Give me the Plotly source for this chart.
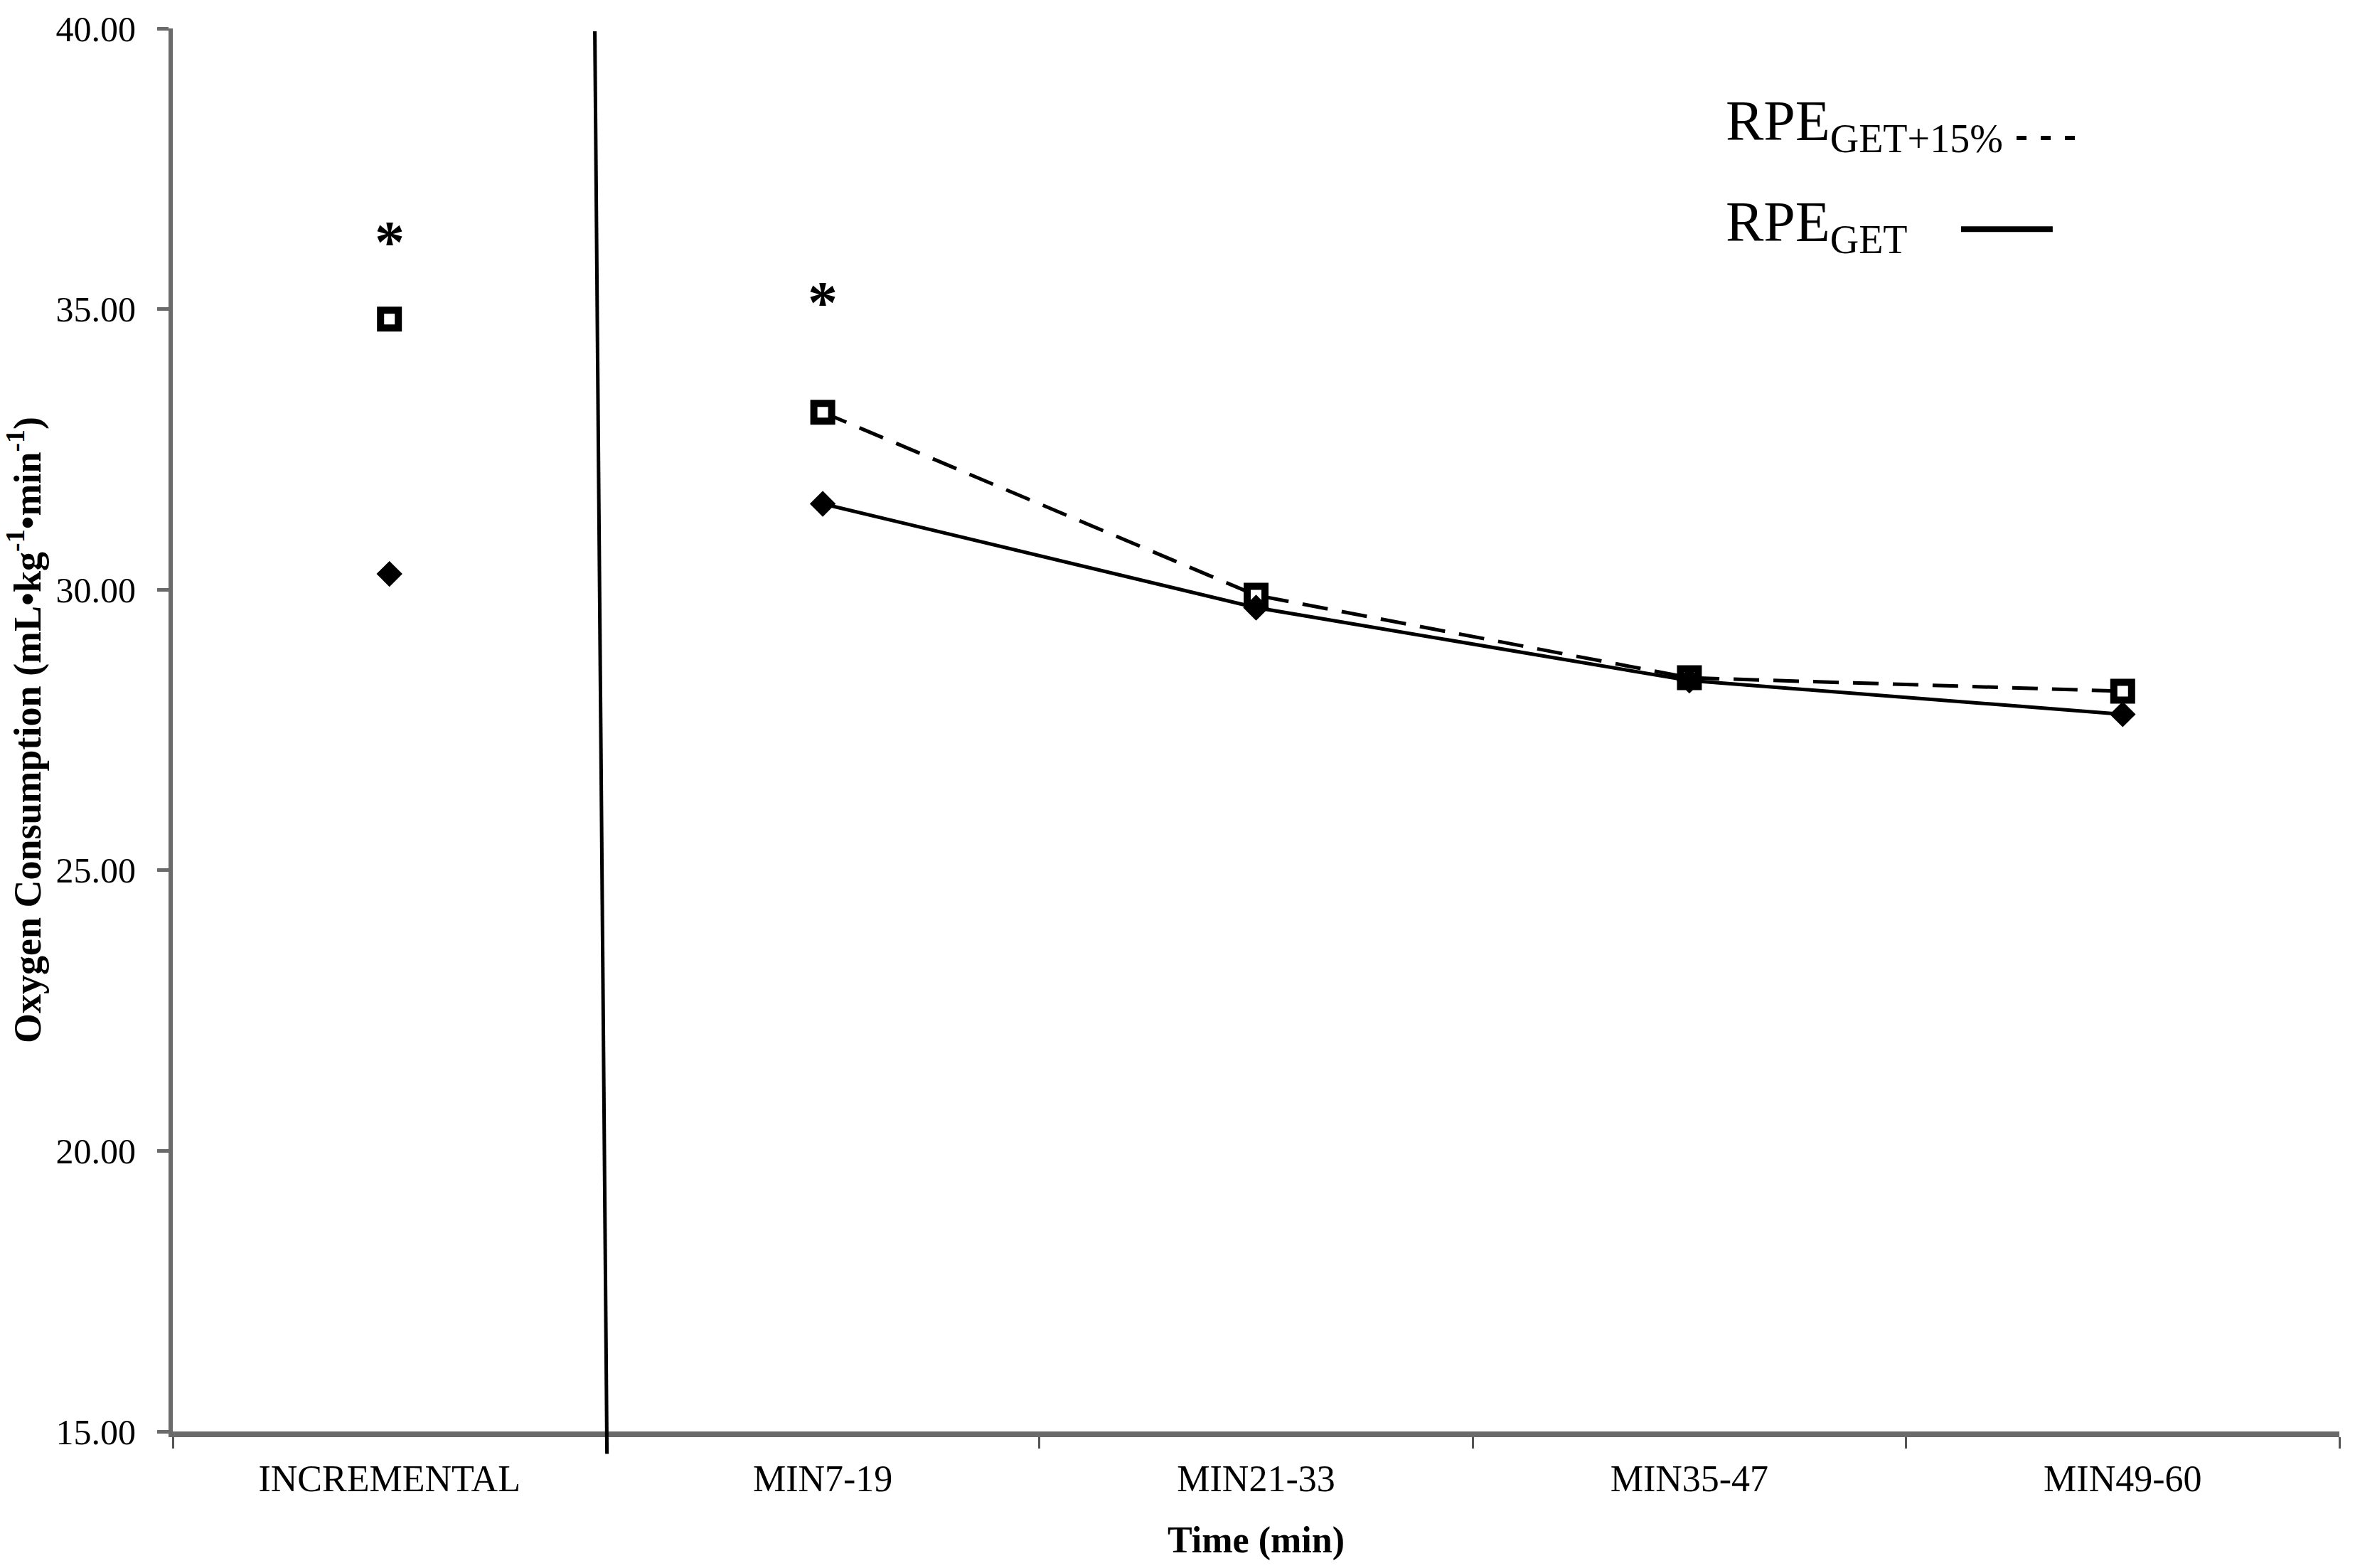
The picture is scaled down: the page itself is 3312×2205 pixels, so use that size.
import plotly.graph_objects as go

# ---- data ----
categories = ["INCREMENTAL", "MIN7-19", "MIN21-33", "MIN35-47", "MIN49-60"]
rpe_get = [30.28, 31.53, 29.68, 28.38, 27.78]
rpe_get15 = [34.82, 33.16, 29.90, 28.43, 28.19]
sig_categories = ["INCREMENTAL", "MIN7-19"]
sig_y = [36.24, 35.16]
y_ticks = [15, 20, 25, 30, 35, 40]

SERIF = "Liberation Serif, Times New Roman, serif"
W, H = 3312, 2205
ML, MR, MT, MB = 243, 22, 38, 192

sq_marker = dict(symbol="square", size=25, color="white", line=dict(color="black", width=10))
dia_marker = dict(symbol="diamond", size=28, color="black")

fig = go.Figure()

# RPE_GET+15% (dashed, open squares)
fig.add_trace(go.Scatter(
    x=categories[1:], y=rpe_get15[1:], mode="lines+markers",
    line=dict(color="black", width=5, dash="36px,20px"),
    marker=sq_marker, showlegend=False))
fig.add_trace(go.Scatter(
    x=categories[:1], y=rpe_get15[:1], mode="markers",
    marker=sq_marker, showlegend=False))

# RPE_GET (solid, filled diamonds)
fig.add_trace(go.Scatter(
    x=categories[1:], y=rpe_get[1:], mode="lines+markers",
    line=dict(color="black", width=5),
    marker=dia_marker, showlegend=False))
fig.add_trace(go.Scatter(
    x=categories[:1], y=rpe_get[:1], mode="markers",
    marker=dia_marker, showlegend=False))

# significance asterisks
for c, yv in zip(sig_categories, sig_y):
    fig.add_annotation(x=c, y=yv, xref="x", yref="y", text="*", showarrow=False,
                       font=dict(family=SERIF, size=84, color="black", weight="bold"),
                       xanchor="center", yanchor="middle", yshift=-4)

# vertical separator between incremental test and constant-RPE bouts
fig.add_shape(type="line", xref="x", yref="paper", x0=0.474, y0=0.998, x1=0.502, y1=-0.016,
              line=dict(color="black", width=5))

# legend (text followed by line sample)
fig.add_annotation(xref="paper", yref="paper", x=0.716, y=0.931, xanchor="left", yanchor="middle",
                   text="RPE<sub>GET+15%</sub>", showarrow=False,
                   font=dict(family=SERIF, size=80, color="black"))
fig.add_shape(type="line", xref="paper", yref="paper", x0=0.851, x1=0.878, y0=0.922, y1=0.922,
              line=dict(color="black", width=6, dash="14px,20px"))
fig.add_annotation(xref="paper", yref="paper", x=0.716, y=0.859, xanchor="left", yanchor="middle",
                   text="RPE<sub>GET</sub>", showarrow=False,
                   font=dict(family=SERIF, size=80, color="black"))
fig.add_shape(type="line", xref="paper", yref="paper", x0=0.8254, x1=0.8677, y0=0.857, y1=0.857,
              line=dict(color="black", width=8))

fig.update_layout(
    width=W, height=H,
    margin=dict(l=ML, r=MR, t=MT, b=MB, pad=0),
    paper_bgcolor="white", plot_bgcolor="white",
    font=dict(family=SERIF, color="black"),
    showlegend=False,
)

fig.update_xaxes(
    type="category", categoryorder="array", categoryarray=categories,
    range=[-0.5, len(categories) - 0.5],
    showline=True, linecolor="#6a6a6a", linewidth=8,
    ticks="outside", tickson="boundaries", ticklen=16, tickwidth=3, tickcolor="#555555",
    showgrid=False, zeroline=False,
    tickfont=dict(family=SERIF, size=52, color="black"),
    ticklabelstandoff=14,
    title=dict(text="Time (min)", font=dict(family=SERIF, size=52, color="black", weight="bold"),
               standoff=42),
)

fig.update_yaxes(
    range=[15, 40], tickvals=y_ticks, tickformat=".2f",
    showline=True, linecolor="#6a6a6a", linewidth=6,
    ticks="outside", ticklen=16, tickwidth=5, tickcolor="#6a6a6a",
    showgrid=False, zeroline=False,
    tickfont=dict(family=SERIF, size=50, color="black"),
    ticklabelstandoff=20,
    title=dict(text="Oxygen Consumption (mL•kg<sup>-1</sup>•min<sup>-1</sup>)",
               font=dict(family=SERIF, size=54, color="black", weight="bold"), standoff=16),
)

fig.write_html("out.html", config={"displayModeBar": False},
               post_script="document.body.style.margin='0';document.body.style.overflow='hidden';")
